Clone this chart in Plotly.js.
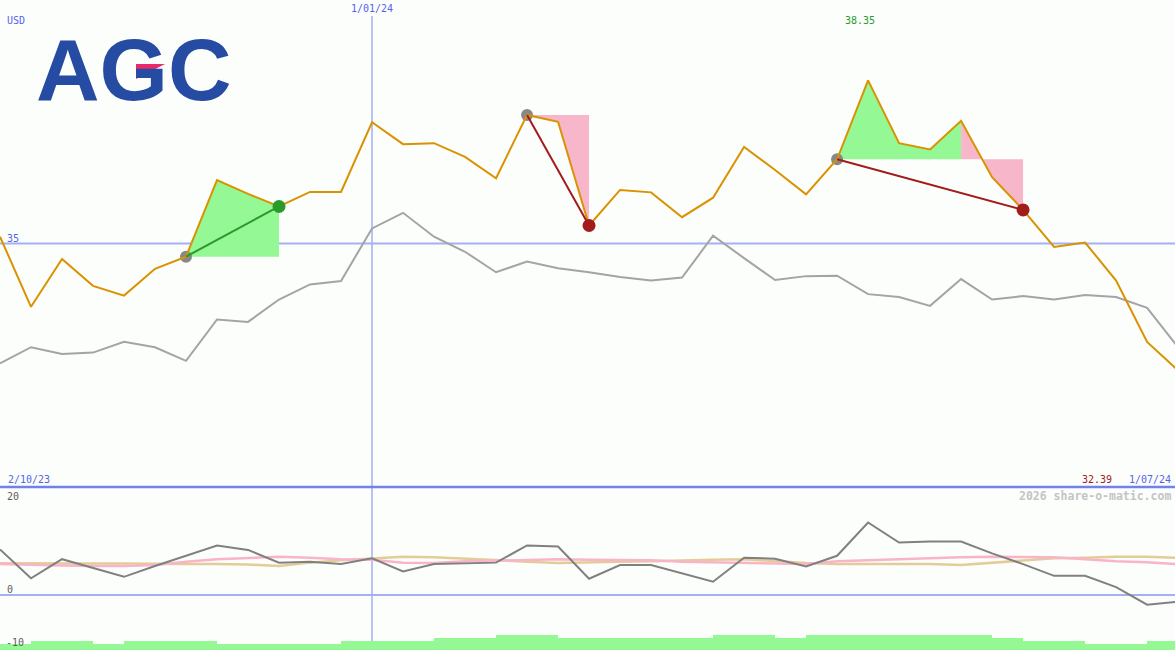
<!DOCTYPE html>
<html>
<head>
<meta charset="utf-8">
<script src="https://cdn.plot.ly/plotly-3.0.1.min.js"></script>
<style>
  html, body { margin: 0; padding: 0; background: #fcfefc; }
  #chart { width: 1175px; height: 650px; }
</style>
</head>
<body>
<div id="chart"></div>
<script>
// ---- data (weekly, index 0 = 2/10/23 ... index 38 = 1/07/24) ----
const startLabel = '2/10/23';
const midLabel = '1/01/24';
const midIndex = 12;
const endLabel = '1/07/24';
const currency = 'USD';

const price = [35.14, 33.70, 34.68, 34.13, 33.93, 34.48, 34.73, 36.30, 36.02, 35.76,
               36.06, 36.06, 37.49, 37.04, 37.06, 36.78, 36.34, 37.64, 37.50, 35.37,
               36.10, 36.05, 35.54, 35.94, 36.98, 36.51, 36.01, 36.73, 38.35, 37.06,
               36.93, 37.52, 36.36, 35.69, 34.93, 35.02, 34.24, 32.98, 32.39];

const indexLine = [32.54, 32.87, 32.73, 32.76, 32.98, 32.87, 32.59, 33.44, 33.39, 33.85,
                   34.16, 34.23, 35.31, 35.63, 35.14, 34.83, 34.41, 34.63, 34.49, 34.41,
                   34.31, 34.24, 34.30, 35.16, 34.70, 34.25, 34.33, 34.34, 33.96, 33.90,
                   33.72, 34.27, 33.85, 33.92, 33.85, 33.94, 33.90, 33.68, 32.87];

const oscillator = [9.3, 3.4, 7.3, 5.5, 3.7, 5.9, 8.0, 10.1, 9.2, 6.6,
                    6.8, 6.3, 7.5, 4.8, 6.3, 6.5, 6.6, 10.1, 9.9, 3.3,
                    6.1, 6.1, 4.4, 2.7, 7.6, 7.4, 5.8, 8.0, 14.8, 10.7,
                    10.9, 10.9, 8.5, 6.3, 3.9, 3.9, 1.6, -2.0, -1.4];

const signalPink = [6.3, 6.1, 6.0, 5.9, 5.9, 6.1, 6.8, 7.3, 7.6, 7.8,
                    7.6, 7.3, 7.2, 6.6, 6.5, 6.9, 7.0, 7.1, 7.3, 7.2,
                    7.2, 7.1, 6.8, 6.7, 6.5, 6.5, 6.3, 6.9, 7.1, 7.4,
                    7.6, 7.7, 7.8, 7.8, 7.7, 7.3, 6.9, 6.7, 6.3];

const signalTan = [6.45, 6.4, 6.4, 6.4, 6.4, 6.3, 6.3, 6.3, 6.2, 5.9,
                   6.6, 7.1, 7.5, 7.8, 7.7, 7.35, 7.1, 6.8, 6.5, 6.7,
                   6.8, 6.9, 7.1, 7.2, 7.3, 6.9, 6.5, 6.3, 6.3, 6.3,
                   6.3, 6.1, 6.6, 7.0, 7.5, 7.6, 7.8, 7.8, 7.6];

const volumeLevel = [2, 3, 3, 2, 3, 3, 3, 2, 2, 2,
                     2, 3, 3, 3, 4, 4, 5, 5, 4, 4,
                     4, 4, 4, 5, 5, 4, 5, 5, 5, 5,
                     5, 5, 4, 3, 3, 2, 2, 3];

// trades: entry index, exit index
const tradeEntry = [6, 17, 27];
const tradeExit  = [9, 19, 33];
// fill segments: [from, to, trade number, colour kind]
const fillFrom  = [6, 17, 27, 31];
const fillTo    = [9, 19, 31, 33];
const fillTrade = [0, 1, 2, 2];
const fillKind  = ['gain', 'loss', 'gain', 'loss'];

const maxLabel = '38.35';
const minLabel = '32.39';
const priceRef = 35;

// ---- styling ----
const W = 1175, H = 650;
const px = v => v / W;
const py = v => 1 - v / H;
const BG = '#fcfefc';
const GREEN_FILL = '#94f894';
const PINK_FILL = '#f8b6cb';
const ORANGE = '#d99200';
const BLUE_TXT = '#5565ea';
const LIGHT_BLUE = '#a3b0f2';
const MONO = 'DejaVu Sans Mono, monospace';
const topDomain = [1 - 487 / H, 1];
const botDomain = [0, 1 - 487 / H];

const traces = [];

// trade fill areas
for (let k = 0; k < fillFrom.length; k++) {
  const e = tradeEntry[fillTrade[k]];
  const xs = [], ys = [];
  for (let i = fillFrom[k]; i <= fillTo[k]; i++) { xs.push(i); ys.push(price[i]); }
  xs.push(fillTo[k]); ys.push(price[e]);
  xs.push(fillFrom[k]); ys.push(price[e]);
  const col = fillKind[k] === 'gain' ? GREEN_FILL : PINK_FILL;
  traces.push({x: xs, y: ys, type: 'scatter', mode: 'lines', fill: 'toself',
               fillcolor: col, line: {width: 0, color: col}, hoverinfo: 'skip',
               xaxis: 'x', yaxis: 'y'});
}

const idx = price.map((_, i) => i);

// index comparison line
traces.push({x: idx, y: indexLine, type: 'scatter', mode: 'lines',
             line: {color: '#a4a4a4', width: 2}, xaxis: 'x', yaxis: 'y'});

// entry markers (under the price line)
traces.push({x: tradeEntry, y: tradeEntry.map(i => price[i]), type: 'scatter', mode: 'markers',
             marker: {color: '#888888', size: 12}, xaxis: 'x', yaxis: 'y'});

// price line
traces.push({x: idx, y: price, type: 'scatter', mode: 'lines',
             line: {color: ORANGE, width: 2}, xaxis: 'x', yaxis: 'y'});

// trade lines + exit markers
for (let t = 0; t < tradeEntry.length; t++) {
  const win = price[tradeExit[t]] > price[tradeEntry[t]];
  const col = win ? '#2a9a2a' : '#a21c1c';
  traces.push({x: [tradeEntry[t], tradeExit[t]], y: [price[tradeEntry[t]], price[tradeExit[t]]],
               type: 'scatter', mode: 'lines', line: {color: col, width: 2}, xaxis: 'x', yaxis: 'y'});
  traces.push({x: [tradeExit[t]], y: [price[tradeExit[t]]], type: 'scatter', mode: 'markers',
               marker: {color: col, size: 13}, xaxis: 'x', yaxis: 'y'});
}

// lower panel
traces.push({x: idx, y: signalTan, type: 'scatter', mode: 'lines',
             line: {color: '#e4cc98', width: 2.5}, xaxis: 'x', yaxis: 'y2'});
traces.push({x: idx, y: signalPink, type: 'scatter', mode: 'lines',
             line: {color: '#f8b4c8', width: 2.5}, xaxis: 'x', yaxis: 'y2'});
traces.push({x: idx, y: oscillator, type: 'scatter', mode: 'lines',
             line: {color: '#808080', width: 2}, xaxis: 'x', yaxis: 'y2'});
traces.push({x: volumeLevel.map((_, i) => i + 0.5), y: volumeLevel, type: 'bar', width: 1,
             marker: {color: '#94f894', line: {width: 0}}, xaxis: 'x', yaxis: 'y3'});

const ann = (text, x, y, color, xanchor, extra) => Object.assign({
  text, x: px(x), y: py(y), xref: 'paper', yref: 'paper', showarrow: false,
  xanchor: xanchor || 'left', yanchor: 'middle', borderpad: 0,
  font: {family: MONO, size: 10, color}
}, extra || {});

const layout = {
  width: W, height: H,
  margin: {l: 0, r: 0, t: 0, b: 0, pad: 0},
  paper_bgcolor: BG, plot_bgcolor: BG,
  showlegend: false, bargap: 0,
  xaxis: {range: [0, 37.9], visible: false, fixedrange: true},
  yaxis: {domain: topDomain, range: [30, 40], visible: false},
  yaxis2: {domain: botDomain, range: [-11.25, 22.05], visible: false},
  yaxis3: {domain: botDomain, range: [0, 54.3], overlaying: 'y2', visible: false},
  shapes: [
    {type: 'line', xref: 'paper', x0: 0, x1: 1, yref: 'y', y0: priceRef, y1: priceRef,
     line: {color: LIGHT_BLUE, width: 2}, layer: 'below'},
    {type: 'line', xref: 'paper', x0: 0, x1: 1, yref: 'y2', y0: 0, y1: 0,
     line: {color: LIGHT_BLUE, width: 2}, layer: 'below'},
    {type: 'line', xref: 'x', x0: midIndex, x1: midIndex, yref: 'paper', y0: 0, y1: py(16),
     line: {color: LIGHT_BLUE, width: 1.5}, layer: 'below'},
    {type: 'line', xref: 'paper', x0: 0, x1: 1, yref: 'paper', y0: py(487), y1: py(487),
     line: {color: '#7282ea', width: 2.5}},
    // logo accent
    {type: 'path', xref: 'paper', yref: 'paper',
     path: `M ${px(136)} ${py(64)} L ${px(165)} ${py(64)} L ${px(136)} ${py(79)} Z`,
     fillcolor: '#ea2a68', line: {width: 0}}
  ],
  annotations: [
    ann(currency, 6, 20, BLUE_TXT),
    ann(midLabel, 372, 9, BLUE_TXT, 'center'),
    ann(maxLabel, 860, 21, '#2a9a2a', 'center'),
    ann(String(priceRef), 6, 238, BLUE_TXT),
    ann(startLabel, 7, 479, BLUE_TXT),
    ann(minLabel, 1097, 479, '#a01c1c', 'center'),
    ann(endLabel, 1172, 479, BLUE_TXT, 'right'),
    ann('<b>2026 share-o-matic.com</b>', 1172, 496, '#c4c4c4', 'right',
        {font: {family: MONO, size: 11.5, color: '#c4c4c4'}}),
    ann('20', 6, 496, '#606060'),
    ann('0', 6, 589, '#606060'),
    ann('-10', 5, 642, '#606060'),
    {text: '<b>AGC</b>', x: px(35), y: py(69), xref: 'paper', yref: 'paper', showarrow: false,
     xanchor: 'left', yanchor: 'middle', borderpad: 0,
     font: {family: 'Liberation Sans, Arial, sans-serif', size: 88, color: '#264ba2'}}
  ]
};

Plotly.newPlot('chart', traces, layout, {staticPlot: true, displayModeBar: false});
</script>
</body>
</html>
